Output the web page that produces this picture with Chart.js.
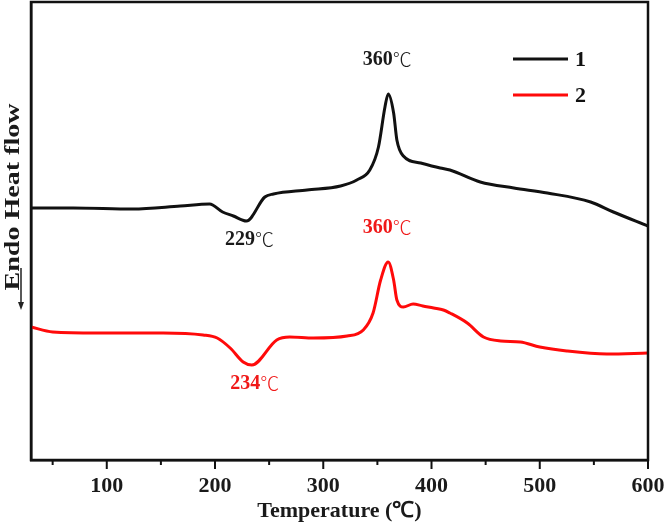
<!DOCTYPE html>
<html lang="en">
<head>
<meta charset="UTF-8">
<title>DSC curves</title>
<script src="https://cdn.jsdelivr.net/npm/chart.js"></script>
<style>
  html, body { margin: 0; padding: 0; background: #fff; }
  #wrap { width: 666px; height: 525px; }
</style>
</head>
<body>
<div id="wrap"><canvas id="dsc"></canvas></div>
<script>
// temperature (C) and heat flow (arbitrary units, higher = up)
const temp1 = [30, 69, 124, 168, 195, 207, 217, 229, 246, 254, 285, 316, 331, 343, 351, 357, 360, 365, 368, 374, 390, 408, 417, 445, 476, 507, 547, 568, 600];
const flow1 = [252, 252, 251, 254, 256, 248, 244, 239, 263, 266, 270, 274, 280, 290, 313, 353, 366, 347, 320, 304, 297, 292, 290, 278, 272, 267, 258, 248, 234];

const temp2 = [30, 50, 91, 152, 189, 202, 214, 226, 234, 257, 269, 291, 322, 337, 346, 353, 360, 365, 368, 374, 383, 392, 402, 411, 417, 433, 448, 464, 482, 500, 525, 562, 600];
const flow2 = [133, 128, 127, 127, 125, 122, 112, 98, 95, 120, 123, 122, 124, 130, 147, 180, 198, 180, 160, 153, 156, 154, 152, 150, 147, 137, 123, 119, 118, 113, 109, 106, 107];

const seriesNames = ["1", "2"];
const xTicks = [100, 200, 300, 400, 500, 600];

// peak / dip labels: [series index, temperature, number, above?]
const peakNotes = [
  [0, 360, "360", true],
  [0, 229, "229", false],
  [1, 360, "360", true],
  [1, 234, "234", false]
];

const serif = '"Liberation Serif", "Times New Roman", serif';
const colors = ["#111111", "#ff0a0a"];
const textColors = ["#1a1a1a", "#f01818"];

function toPoints(xs, ys) {
  return xs.map((x, i) => ({ x: x, y: ys[i] }));
}

const framePlugin = {
  id: "frame",
  afterDraw(chart) {
    const c = chart.ctx;
    const a = chart.chartArea;
    const xs = chart.scales.x;
    c.save();
    c.strokeStyle = "#111";
    c.lineWidth = 2.5;
    c.strokeRect(a.left, a.top, a.right - a.left, a.bottom - a.top);

    // tick marks, long on hundreds, short on fifties
    c.lineWidth = 2;
    for (let v = 50; v <= 600; v += 50) {
      const px = xs.getPixelForValue(v);
      const len = v % 100 === 0 ? 9 : 5;
      c.beginPath();
      c.moveTo(px, a.bottom);
      c.lineTo(px, a.bottom + len);
      c.stroke();
    }

    // peak labels: bold number + thin degree sign
    c.textBaseline = "middle";
    c.textAlign = "left";
    peakNotes.forEach(n => {
      const s = n[0];
      const xsArr = s === 0 ? temp1 : temp2;
      const ysArr = s === 0 ? flow1 : flow2;
      const i = xsArr.indexOf(n[1]);
      const px = xs.getPixelForValue(n[1]);
      const py = chart.scales.y.getPixelForValue(ysArr[i]);
      c.font = "bold 20px " + serif;
      const w1 = c.measureText(n[2]).width;
      c.font = '300 19px "Noto Sans CJK SC", "DejaVu Sans", sans-serif';
      const w2 = c.measureText("\u2103").width;
      const x0 = px - (w1 + w2) / 2 + (n[3] ? -1 : 3);
      const y0 = py + (n[3] ? -34 : 19);
      c.fillStyle = textColors[s];
      c.font = "bold 20px " + serif;
      c.fillText(n[2], x0, y0);
      c.font = '300 19px "Noto Sans CJK SC", "DejaVu Sans", sans-serif';
      c.fillText("\u2103", x0 + w1, y0);
    });

    // legend inside the plot
    c.textAlign = "left";
    c.font = "bold 22px " + serif;
    seriesNames.forEach((name, i) => {
      const y = 59 + i * 36;
      c.strokeStyle = colors[i];
      c.lineWidth = 3;
      c.beginPath();
      c.moveTo(513, y);
      c.lineTo(568, y);
      c.stroke();
      c.fillStyle = "#111";
      c.fillText(name, 575, y + 1);
    });

    // y axis title with arrow
    c.save();
    c.translate(13, 197);
    c.rotate(-Math.PI / 2);
    c.font = "bold 22px " + serif;
    c.textAlign = "center";
    c.fillStyle = "#1a1a1a";
    const label = "Endo Heat flow";
    const w = c.measureText(label).width;
    c.scale(187 / w, 1);
    c.fillText(label, 0, 0);
    c.restore();

    c.strokeStyle = "#222";
    c.fillStyle = "#222";
    c.lineWidth = 1.5;
    c.beginPath();
    c.moveTo(21, 268);
    c.lineTo(21, 306);
    c.stroke();
    c.beginPath();
    c.moveTo(18, 302);
    c.lineTo(24, 302);
    c.lineTo(21, 310);
    c.closePath();
    c.fill();
    c.restore();
  }
};

new Chart(document.getElementById("dsc"), {
  type: "line",
  data: {
    datasets: [
      {
        label: seriesNames[0],
        data: toPoints(temp1, flow1),
        borderColor: colors[0],
        borderWidth: 3,
        pointRadius: 0,
        cubicInterpolationMode: "monotone",
        fill: false
      },
      {
        label: seriesNames[1],
        data: toPoints(temp2, flow2),
        borderColor: colors[1],
        borderWidth: 3,
        pointRadius: 0,
        cubicInterpolationMode: "monotone",
        fill: false
      }
    ]
  },
  options: {
    responsive: true,
    maintainAspectRatio: false,
    animation: false,
    layout: { padding: { top: 2, right: 18, left: 0, bottom: 0 } },
    plugins: {
      legend: { display: false },
      tooltip: { enabled: false }
    },
    scales: {
      x: {
        type: "linear",
        min: 30,
        max: 600,
        afterFit(scale) {
          scale.height = 65;
          scale.paddingLeft = 0;
          scale.paddingRight = 0;
        },
        afterBuildTicks(scale) { scale.ticks = xTicks.map(v => ({ value: v })); },
        grid: { display: false },
        border: { display: true, color: "#111", width: 2.5 },
        ticks: {
          autoSkip: false,
          maxRotation: 0,
          padding: 5,
          color: "#1a1a1a",
          font: { family: serif, size: 22, weight: "bold" }
        },
        title: {
          display: true,
          text: "Temperature (\u2103)",
          color: "#1a1a1a",
          padding: { top: 0, bottom: 0 },
          font: { family: serif, size: 22, weight: "bold" }
        }
      },
      y: {
        min: 0,
        max: 458,
        afterFit(scale) { scale.width = 31; },
        grid: { display: false },
        border: { display: true, color: "#111", width: 2.5 },
        ticks: { display: false }
      }
    }
  },
  plugins: [framePlugin]
});
</script>
</body>
</html>
